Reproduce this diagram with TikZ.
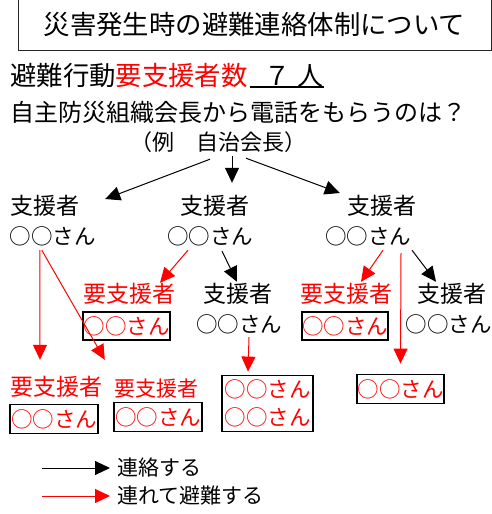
\documentclass[tikz,border=0pt]{standalone}
\usepackage{fontspec}
\setmainfont{Noto Sans CJK JP}
\usetikzlibrary{arrows.meta,calc}
\tikzset{
  lvl/.style={inner sep=0pt, font=\fontsize{23}{23}\selectfont, text height=18pt, text depth=3pt},
  nm/.style={inner sep=0pt, font=\fontsize{21.5}{21.5}\selectfont, text height=17pt, text depth=3pt},
  bx/.style={draw=black, line width=1.8pt, inner sep=0pt, text=red, font=\fontsize{21.5}{28}\selectfont, align=center},
  blk/.style={-{Triangle[length=15pt,width=14pt]}, line width=1pt, draw=black},
  rd/.style={-{Triangle[length=15pt,width=14pt]}, line width=1pt, draw=red},
}
\begin{document}
\begin{tikzpicture}[x=1pt,y=-1pt]
\useasboundingbox (0,0) rectangle (492,514);
% title
\node[draw=black!85, line width=1pt, minimum width=473pt, minimum height=51pt, inner sep=0pt,
      font=\fontsize{26.4}{26.4}\selectfont] (title) at (254.5,24.5) {災害発生時の避難連絡体制について};
% line 2
\node[anchor=west, inner sep=0pt, font=\fontsize{26.4}{26.4}\selectfont, text height=20pt, text depth=2pt]
  (count) at (10,76) {避難行動\textcolor{red}{要支援者数}};
\node[inner sep=0pt, font=\fontsize{26}{26}\selectfont, text height=20pt, text depth=2pt]
  (num) at (287,76) {\hspace{14pt}７\hspace{8pt}人};
\draw[line width=1.5pt] (num.south west) -- (num.south east);
% line 3
\node[anchor=west, inner sep=0pt, font=\fontsize{24}{24}\selectfont] (q) at (10,112) {自主防災組織会長から電話をもらうのは？};
\node[inner sep=0pt, font=\fontsize{22}{22}\selectfont, text height=17pt, text depth=3pt] (p) at (218,143) {（例　自治会長）};
% level 1
\node[lvl] (s1) at (45,207) {支援者};
\node[nm]  (n1) at (52.5,237) {○○さん};
\node[lvl] (s2) at (215,207) {支援者};
\node[nm]  (n2) at (210,237) {○○さん};
\node[lvl] (s3) at (382,207) {支援者};
\node[nm]  (n3) at (368,237) {○○さん};
% level 2
\node[lvl, text=red] (r21) at (129.5,295) {要支援者};
\node[bx, minimum width=87pt, minimum height=28pt] (b21) at (126.5,326) {○○さん};
\node[lvl] (s22) at (237.5,295) {支援者};
\node[nm]  (n22) at (239,325) {○○さん};
\node[lvl, text=red] (r23) at (346,295) {要支援者};
\node[bx, minimum width=86pt, minimum height=28pt] (b23) at (345,326) {○○さん};
\node[lvl] (s24) at (452,295) {支援者};
\node[nm]  (n24) at (448.5,325) {○○さん};
% level 3
\node[lvl, text=red] (r31) at (56.5,388) {要支援者};
\node[bx, minimum width=88pt, minimum height=29pt] (b31) at (54,419) {○○さん};
\node[inner sep=0pt, text=red, font=\fontsize{21}{21}\selectfont, text height=16.5pt, text depth=2.5pt] (r32) at (156.5,389) {要支援者};
\node[bx, minimum width=88pt, minimum height=29pt] (b32) at (158,417) {○○さん};
\node[bx, minimum width=91pt, minimum height=56pt] (b33) at (267.5,403.5) {○○さん\\○○さん};
\node[bx, minimum width=87pt, minimum height=29pt] (b34) at (400.5,389) {○○さん};
% black arrows from chairman
\draw[blk] ($(p.south)+(-8,6)$) -- ($(s1.east)+(25.5,-8)$);
\draw[blk] ($(p.south)+(14,3)$) -- ($(s2.north)+(17,-13.5)$);
\draw[blk] ($(p.south)+(28,5)$) -- ($(s3.west)+(-7.5,-14)$);
% from n1
\draw[rd] ($(n1.south west)+(30.5,3)$) -- ($(r31.north)+(-16.5,-17.5)$);
\draw[rd] ($(n1.south west)+(32.5,3)$) -- ($(r32.north west)+(-9.5,-19.5)$);
% from n2
\draw[rd] ($(n2.south)+(-22,3)$) -- ($(r21.north)+(30.5,-1.5)$);
\draw[blk] ($(n2.south)+(12,4)$) -- ($(s22.north)+(-0.5,-2.5)$);
% from n3
\draw[rd] ($(n3.south)+(15,3)$) -- ($(r23.north)+(15,-2.5)$);
\draw[blk] ($(n3.south)+(44,3)$) -- ($(s24.north)+(-16,-2.5)$);
\draw[rd] ($(n3.south)+(33,6)$) -- ($(b34.north)+(0,-10)$);
% from n22
\draw[rd] ($(n22.south)+(10,2)$) -- ($(b33.north)+(-19.5,-3)$);
% legend
\node[anchor=west, inner sep=0pt, font=\fontsize{21}{21}\selectfont] (l1) at (117,468) {連絡する};
\node[anchor=west, inner sep=0pt, font=\fontsize{21}{21}\selectfont] (l2) at (117,496) {連れて避難する};
\coordinate (lc1) at (42,468);
\coordinate (lc2) at (42,496);
\draw[blk] (lc1) -- ($(l1.west)+(-7,0)$);
\draw[rd] (lc2) -- ($(l2.west)+(-7,0)$);
\end{tikzpicture}
\end{document}
